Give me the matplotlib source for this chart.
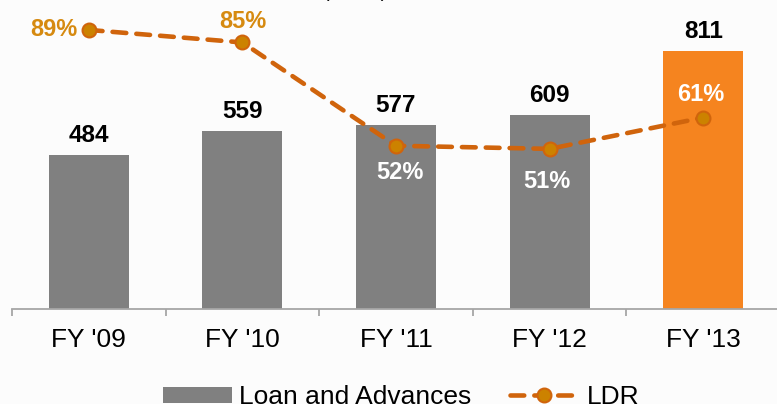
import matplotlib
matplotlib.use("Agg")
import matplotlib.pyplot as plt
from matplotlib.patches import Patch
from matplotlib.lines import Line2D
import numpy as np

plt.rcParams['font.family'] = ['Liberation Sans', 'DejaVu Sans']

categories = ["FY '09", "FY '10", "FY '11", "FY '12", "FY '13"]
loans = [484, 559, 577, 609, 811]
ldr = [89, 85, 52, 51, 61]
ldr_labels = ["89%", "85%", "52%", "51%", "61%"]

bar_colors = ['#808080', '#808080', '#808080', '#808080', '#F5841F']
line_color = '#D0640C'
marker_face = '#CC8200'
label_colors = ['#D68A10', '#D68A10', 'white', 'white', 'white']
# label offsets in points (dx, dy) and alignment
label_pos = [(-8, 0, 'right', 'center'), (0, 7, 'center', 'bottom'),
             (3, -11, 'center', 'top'), (-2, -15, 'center', 'top'),
             (-2, 8, 'center', 'bottom')]

W, H = 777, 404
fig = plt.figure(figsize=(W / 100, H / 100), dpi=100)
fig.patch.set_facecolor('#FCFCFC')
base = 308.5
ax = fig.add_axes([12 / W, (H - base) / H, (780 - 12) / W, base / H])
ax.set_facecolor('none')

x = np.arange(len(categories))
bars = ax.bar(x, loans, width=0.52, color=bar_colors, zorder=2)
ax.set_xlim(-0.5, 4.5)
ax.set_ylim(0, base / 0.3175)

for xi, v in zip(x, loans):
    ax.annotate(str(v), (xi, v), xytext=(0, 9.5), textcoords='offset points',
                ha='center', va='baseline', fontsize=17.5, fontweight='bold',
                color='black', zorder=5)

for s in ['left', 'right', 'top']:
    ax.spines[s].set_visible(False)
ax.spines['bottom'].set_color('#A6A6A6')
ax.spines['bottom'].set_linewidth(1.3)
ax.set_yticks([])
ax.set_xticks(x)
ax.set_xticklabels(categories, fontsize=19)
ax.tick_params(axis='x', which='major', length=0, pad=14)
ax.set_xticks(np.arange(-0.5, 5.0, 1.0), minor=True)
ax.tick_params(axis='x', which='minor', length=5, width=1.3, color='#A6A6A6')

ax2 = ax.twinx()
ax2.set_ylim(0, base / 3.13)
ax2.set_yticks([])
for s in ax2.spines.values():
    s.set_visible(False)
dash = (0, (3.0, 2.2))
ax2.plot(x, ldr, color=line_color, lw=3.3, ls=dash,
         dash_capstyle='round', marker='o', markersize=10,
         markerfacecolor=marker_face, markeredgecolor=line_color,
         markeredgewidth=1.5, zorder=4)

for xi, v, lab, c, (dx, dy, ha, va) in zip(x, ldr, ldr_labels, label_colors, label_pos):
    ax2.annotate(lab, (xi, v), xytext=(dx, dy), textcoords='offset points',
                 ha=ha, va=va, fontsize=17, fontweight='bold', color=c, zorder=6)

fig.text(355 / W, 1 + 3 / H, "(Rs bn)", ha='center', va='baseline',
         fontsize=14, color='black')

handles = [Patch(facecolor='#808080', edgecolor='none'),
           Line2D([0], [0], color=line_color, lw=3.3, ls=dash,
                  dash_capstyle='round', marker='o', markersize=10,
                  markerfacecolor=marker_face, markeredgecolor=line_color,
                  markeredgewidth=1.5)]
fig.legend(handles, ['Loan and Advances', 'LDR'], loc='lower center',
           bbox_to_anchor=(401 / W, -5 / H), ncol=2, frameon=False,
           fontsize=19, handlelength=2.6, handleheight=0.55,
           handletextpad=0.3, columnspacing=1.45, borderpad=0, borderaxespad=0)

fig.savefig('out.png', dpi=100, facecolor=fig.get_facecolor())
